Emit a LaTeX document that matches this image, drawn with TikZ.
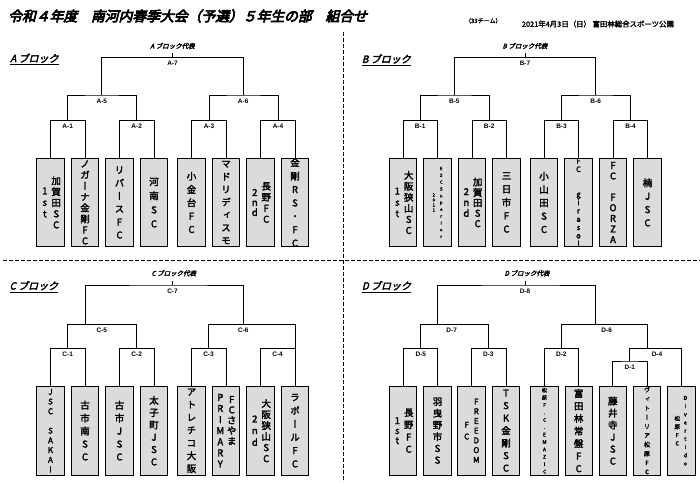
\documentclass[tikz,border=0pt]{standalone}
\usepackage{fontspec}
\setmainfont{Liberation Sans}
\newfontfamily\jpv[RawFeature=+vert,FakeBold=2.5]{Noto Sans CJK JP}
\newfontfamily\jpti[FakeBold=5,FakeSlant=0.25]{Noto Sans CJK JP}
\newfontfamily\jpsl[FakeBold=3,FakeSlant=0.25]{Noto Sans CJK JP}
\newfontfamily\jpb[FakeBold=2]{Noto Sans CJK JP}
\definecolor{boxgray}{gray}{0.86}

% one column of upright characters, read top to bottom
\makeatletter
\newcommand\tate[2][12pt]{\parbox[c]{1.2em}{\centering\baselineskip=#1\relax
  \lineskiplimit=-\maxdimen\@tfor\tatechar:=#2\do{\tatechar\par}}}
\makeatother

\begin{document}
\begin{tikzpicture}[x=1pt,y=-1pt,
  teambox/.style={draw,fill=boxgray,line width=0.8pt,minimum width=27.5pt,minimum height=88.4pt,inner sep=0pt},
  teamtext/.style={inner sep=0pt,font=\jpv\fontsize{9.5}{12}\selectfont},
  bracket/.style={line width=0.8pt},
  match/.style={below=3.5pt,inner sep=0pt,font=\bfseries\fontsize{6.5}{7}\selectfont},
  blockhead/.style={anchor=west,inner sep=0pt,font=\jpsl\fontsize{10}{11}\selectfont},
  rep/.style={inner sep=0pt,font=\jpsl\fontsize{6.5}{7}\selectfont},
  sep/.style={dash pattern=on 4pt off 2pt,line width=0.8pt}]
\useasboundingbox (0,0) rectangle (700,482);

\node[anchor=west,inner sep=0pt,font=\jpti\fontsize{13.8}{14}\selectfont] (title) at (8,16) {令和４年度　南河内春季大会（予選）５年生の部　組合せ};
\node[inner sep=0pt,font=\jpb\fontsize{6}{6}\selectfont] (teams) at (483.3,20.7) {（33チーム）};
\node[anchor=west,inner sep=0pt,font=\jpb\fontsize{7.4}{8}\selectfont] (date) at (521.7,24) {2021年4月3日（日） 富田林総合スポーツ公園};

\draw[sep] (3,260) -- (700,260);
\draw[sep] (343,32) -- (343,482);

% A block
\node[blockhead] (hA) at (10,59.3) {\underline{A ブロック}};
\node[rep] (rA) at (172.5,46) {A ブロック代表};
\foreach \i/\x/\team in {
  1/50.5/{\tate[11.5pt]{1st}\tate[11pt]{加賀田SC}},
  2/85/{\tate[11pt]{ノガーナ金剛FC}},
  3/119.5/{\tate[13pt]{リバースFC}},
  4/154/{\tate[14pt]{河南SC}},
  5/191.5/{\tate[13.3pt]{小金台FC}},
  6/226/{\tate[12.8pt]{マドリディスモ}},
  7/260.5/{\tate[10pt]{2nd}\tate[11pt]{長野FC}},
  8/295/{\tate[13.4pt]{金剛RS・FC}}}{
  \node[teambox] (a\i) at (\x,202.5) {};
  \node[teamtext] (ta\i) at (a\i) {\team};
}
\coordinate (A1) at (67.7,120.5);
\coordinate (A2) at (136.7,120.5);
\coordinate (A3) at (209,120.5);
\coordinate (A4) at (278,120.5);
\coordinate (A5) at (101.8,95);
\coordinate (A6) at (243.2,95);
\coordinate (A7) at (172.5,57.3);
\draw[bracket] (a1.north) |- (A1) -| (a2.north);
\draw[bracket] (a3.north) |- (A2) -| (a4.north);
\draw[bracket] (a5.north) |- (A3) -| (a6.north);
\draw[bracket] (a7.north) |- (A4) -| (a8.north);
\draw[bracket] (A1) |- (A5) -| (A2);
\draw[bracket] (A3) |- (A6) -| (A4);
\draw[bracket] (A5) |- (A7) -| (A6);
\draw[bracket] (A7) -- ++(0,-4);
\foreach \m in {1,...,7}
  \node[match] (nA\m) at (A\m) {A-\m};

% B block
\node[blockhead] (hB) at (361.7,60) {\underline{B ブロック}};
\node[rep] (rB) at (525,46) {B ブロック代表};
\foreach \i/\x/\team in {
  1/403/{\tate[11.3pt]{1st}\tate[11pt]{大阪狭山SC}},
  2/437.5/{\fontsize{4.5}{5}\selectfont\tate[5pt]{2011}\hspace{2pt}\tate[6.8pt]{ESCSuperior}},
  3/472/{\tate[10.8pt]{2nd}\tate[10.4pt]{加賀田SC}},
  4/506.5/{\tate[13.3pt]{三日市FC}},
  5/544/{\tate[13.3pt]{小山田SC}},
  6/578.5/{\fontsize{7.5}{8}\selectfont\tate[8.3pt]{FC~~girasol}},
  7/613/{\tate[10.6pt]{FC~FORZA}},
  8/647.5/{\tate[13.3pt]{楠JSC}}}{
  \node[teambox] (b\i) at (\x,202.5) {};
  \node[teamtext] (tb\i) at (b\i) {\team};
}
\coordinate (B1) at (420.2,120.5);
\coordinate (B2) at (489.2,120.5);
\coordinate (B3) at (561.5,120.5);
\coordinate (B4) at (630.5,120.5);
\coordinate (B5) at (454.3,95);
\coordinate (B6) at (595.7,95);
\coordinate (B7) at (525,57.3);
\draw[bracket] (b1.north) |- (B1) -| (b2.north);
\draw[bracket] (b3.north) |- (B2) -| (b4.north);
\draw[bracket] (b5.north) |- (B3) -| (b6.north);
\draw[bracket] (b7.north) |- (B4) -| (b8.north);
\draw[bracket] (B1) |- (B5) -| (B2);
\draw[bracket] (B3) |- (B6) -| (B4);
\draw[bracket] (B5) |- (B7) -| (B6);
\draw[bracket] (B7) -- ++(0,-4);
\foreach \m in {1,...,7}
  \node[match] (nB\m) at (B\m) {B-\m};

% C block
\node[blockhead] (hC) at (9.3,286.7) {\underline{C ブロック}};
\node[rep] (rC) at (173.8,273.3) {C ブロック代表};
\foreach \i/\x/\team in {
  1/50.5/{\fontsize{8}{8}\selectfont\tate[9.7pt]{JSC~SAKAI}},
  2/85/{\tate[12.9pt]{古市南SC}},
  3/119.5/{\tate[12.9pt]{古市JSC}},
  4/154/{\tate[12.3pt]{太子町JSC}},
  5/191.5/{\tate[12.8pt]{アトレチコ大阪}},
  6/226/{\raisebox{5.7pt}{\tate[11.1pt]{PRIMARY}\tate[10.4pt]{FCさやま~~}}},
  7/260.5/{\tate[11.7pt]{2nd}\tate[11pt]{大阪狭山SC}},
  8/295/{\tate[13.3pt]{ラポールFC}}}{
  \node[teambox] (c\i) at (\x,430.7) {};
  \node[teamtext] (tc\i) at (c\i) {\team};
}
\coordinate (C1) at (67.7,348.3);
\coordinate (C2) at (136.7,348.3);
\coordinate (C3) at (208.5,348.3);
\coordinate (C4) at (277.5,348.3);
\coordinate (C5) at (101.8,324.5);
\coordinate (C6) at (243.3,324.5);
\coordinate (C7) at (172.5,285);
\draw[bracket] (c1.north) |- (C1) -| (c2.north);
\draw[bracket] (c3.north) |- (C2) -| (c4.north);
\draw[bracket] (c5.north) |- (C3) -| (c6.north);
\draw[bracket] (c7.north) |- (C4) -| (c8.north);
\draw[bracket] (C1) |- (C5) -| (C2);
\draw[bracket] (C3) |- (C6) -| (C4 -| c8.north);
\draw[bracket] (C5 -| c2.north) |- (C7) -| (C6);
\draw[bracket] (C7) -- ++(0,-4);
\foreach \m in {1,...,7}
  \node[match] (nC\m) at (C\m) {C-\m};

% D block
\node[blockhead] (hD) at (361.7,286.7) {\underline{D ブロック}};
\node[rep] (rD) at (527,273.3) {D ブロック代表};
\foreach \i/\x/\team in {
  1/403/{\tate[10pt]{1st}\tate[12.2pt]{長野FC}},
  2/437.5/{\tate[11.7pt]{羽曳野市SS}},
  3/471.5/{\fontsize{8}{8}\selectfont\tate[11.7pt]{FC}\tate[9.7pt]{FREEDOM}},
  4/506/{\tate[12.5pt]{TSK金剛SC}},
  5/544.5/{\fontsize{5}{5}\selectfont\tate[7.4pt]{松原F.C.EMAZIC}},
  6/578.7/{\tate[12.5pt]{富田林常盤FC}},
  7/612.8/{\tate[12pt]{藤井寺JSC}},
  8/647/{\fontsize{6}{6}\selectfont\tate[9.1pt]{ヴィトーリア松原FC}},
  9/681.3/{\fontsize{5.5}{6}\selectfont\tate[8.3pt]{松原FC}\hspace{1.5pt}\tate[8.2pt]{Divertido}}}{
  \node[teambox] (d\i) at (\x,430.7) {};
  \node[teamtext] (td\i) at (d\i) {\team};
}
\coordinate (D1) at (629.8,361);
\coordinate (D2) at (561.3,348.3);
\coordinate (D3) at (488.3,348.3);
\coordinate (D4) at (657,348.3);
\coordinate (D5) at (420.8,348.3);
\coordinate (D6) at (606.7,324.5);
\coordinate (D6join) at (595.7,324.5);
\coordinate (D7) at (451.7,324.5);
\coordinate (D8) at (525,285);
\draw[bracket] (d1.north) |- (D5) -| (d2.north);
\draw[bracket] (d3.north) |- (D3) -| (d4.north);
\draw[bracket] (d5.north) |- (D2) -| (d6.north);
\draw[bracket] (d7.north) |- (D1) -| (d8.north);
\draw[bracket] (D1) |- (D4) -| (d9.north);
\draw[bracket] (D5) |- (D7) -| (D3);
\draw[bracket] (D2) |- (D6) -| (D4 -| d8.north);
\draw[bracket] (D7 -| d2.north) |- (D8) -| (D6join);
\draw[bracket] (D8) -- ++(0,-4);
\foreach \m in {1,...,8}
  \node[match] (nD\m) at (D\m) {D-\m};
\end{tikzpicture}
\end{document}
